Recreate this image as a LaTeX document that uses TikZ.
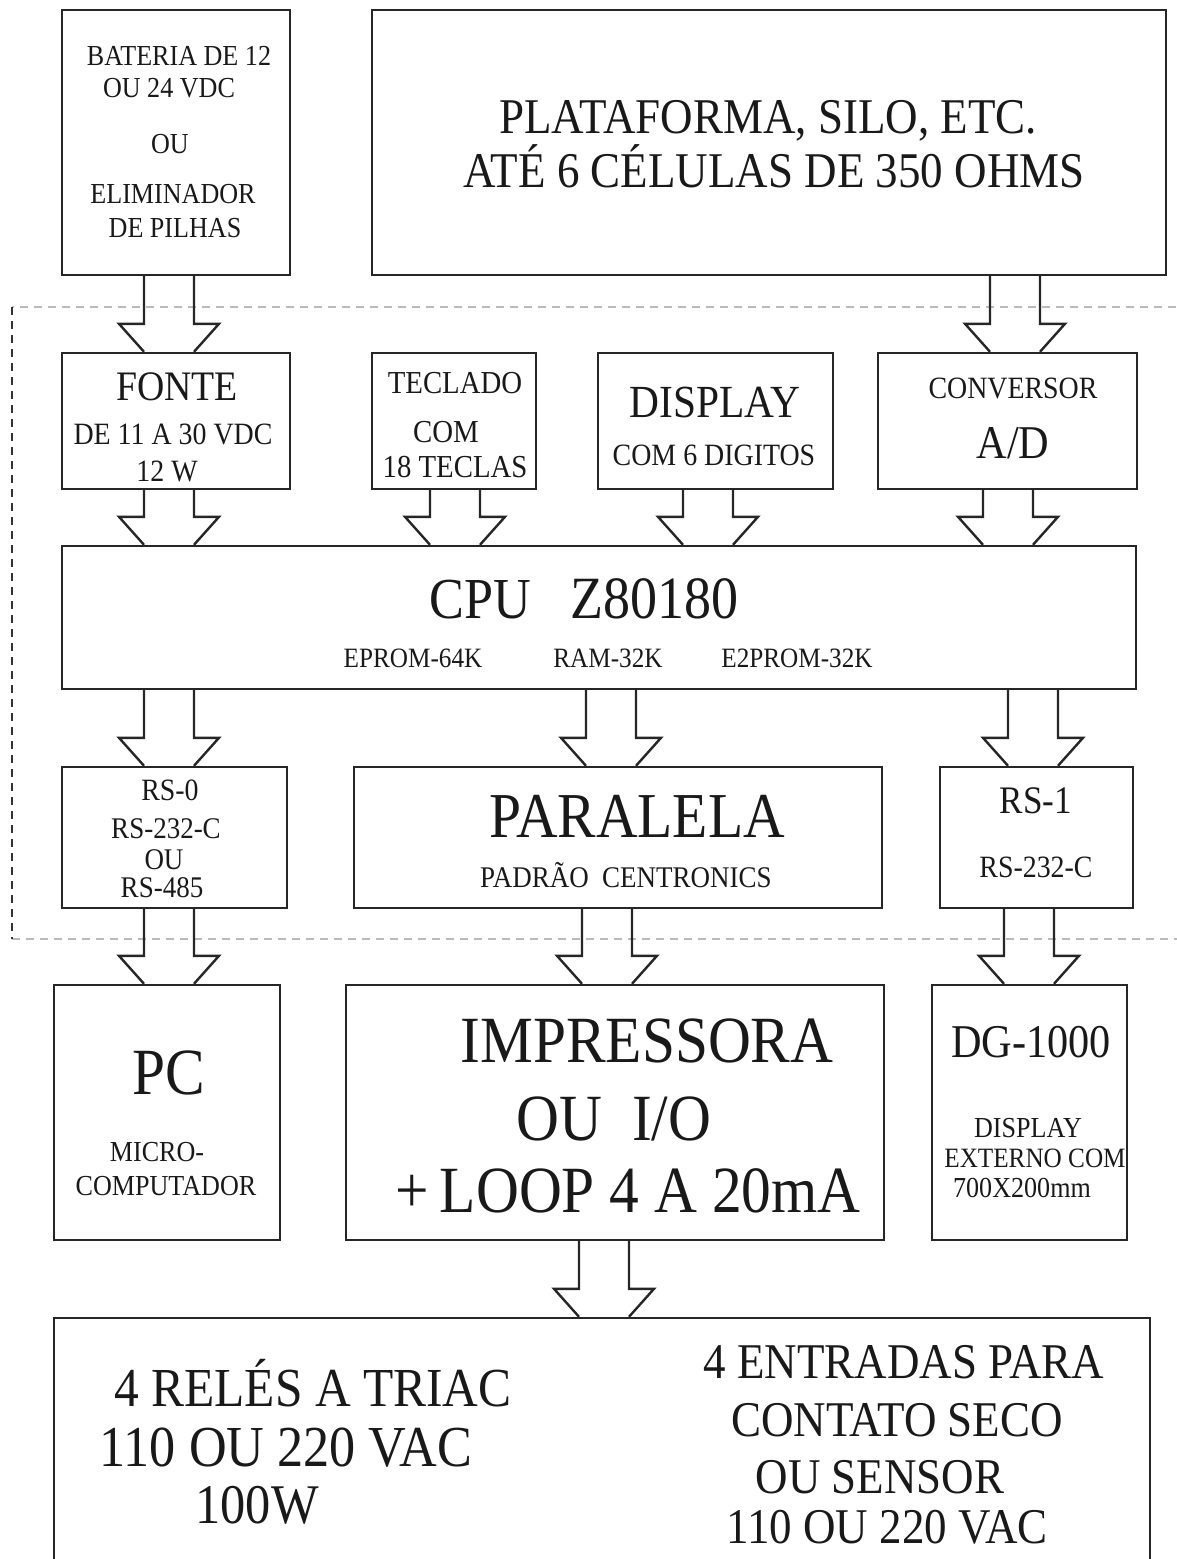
\documentclass[tikz,border=0pt]{standalone}
\usepackage{fontspec}
\setmainfont[FakeStretch=0.9]{Liberation Serif}
\usetikzlibrary{calc}

\newcommand{\fs}[1]{\fontsize{#1}{#1}\selectfont}
% hollow block arrow from the bottom of #1 to the top of #2, centred at x=#3
\newcommand{\fatarrow}[3]{%
  \draw[conn] (#3-25,0 |- #1.south) -- ($(#3-25,0 |- #2.north)+(0,-28)$) -- ++(-25,0) -- (#3-25,0 |- #2.north);
  \draw[conn] (#3+25,0 |- #1.south) -- ($(#3+25,0 |- #2.north)+(0,-28)$) -- ++(25,0) -- (#3+25,0 |- #2.north);}

\begin{document}
\begin{tikzpicture}[x=1pt,y=-1pt,
  box/.style={draw=black!85,line width=2.4pt,inner sep=0pt},
  conn/.style={draw=black!85,line width=2.4pt},
  lbl/.style={anchor=base,inner sep=0pt,text height=0.68em,text depth=0pt,text=black!90}]
\useasboundingbox (0,0) rectangle (1176,1559);

\draw[gray!55,line width=1.2pt,dash pattern=on 8pt off 6pt] (1190,307) -- (12,307);
\draw[gray!55,line width=1.2pt,dash pattern=on 8pt off 6pt] (12,939) -- (1190,939);
\draw[black!80,line width=1.2pt,dash pattern=on 8pt off 6pt] (12,307) -- (12,939);

\node[box,minimum width=228pt,minimum height=265pt] (bat) at (176,142.5) {};
\node[box,minimum width=794pt,minimum height=265pt] (plat) at (769,142.5) {};
\node[box,minimum width=228pt,minimum height=136pt] (fonte) at (176,421) {};
\node[box,minimum width=164pt,minimum height=136pt] (tecl) at (454,421) {};
\node[box,minimum width=235pt,minimum height=136pt] (disp) at (715.5,421) {};
\node[box,minimum width=259pt,minimum height=136pt] (conv) at (1007.5,421) {};
\node[box,minimum width=1074pt,minimum height=143pt] (cpu) at (599,617.5) {};
\node[box,minimum width=225pt,minimum height=141pt] (rs0) at (174.5,837.5) {};
\node[box,minimum width=528pt,minimum height=141pt] (par) at (618,837.5) {};
\node[box,minimum width=193pt,minimum height=141pt] (rs1) at (1036.5,837.5) {};
\node[box,minimum width=226pt,minimum height=255pt] (pc) at (167,1112.5) {};
\node[box,minimum width=538pt,minimum height=255pt] (imp) at (615,1112.5) {};
\node[box,minimum width=195pt,minimum height=255pt] (dg) at (1029.5,1112.5) {};
\node[box,minimum width=1096pt,minimum height=282pt] (rel) at (602,1459) {};

\node[lbl,font=\fs{29}] (bat1) at (179,65) {BATERIA DE 12};
\node[lbl,font=\fs{29}] (bat2) at (169,97) {OU 24 VDC};
\node[lbl,font=\fs{29}] (bat3) at (170,153) {OU};
\node[lbl,font=\fs{29}] (bat4) at (173,203) {ELIMINADOR};
\node[lbl,font=\fs{29}] (bat5) at (175,237) {DE PILHAS};

\node[lbl,font=\fs{50}] (plat1) at (768,133) {PLATAFORMA, SILO, ETC.};
\node[lbl,font=\fs{50}] (plat2) at (774,187) {ATÉ 6 CÉLULAS DE 350 OHMS};

\node[lbl,font=\fs{42}] (fonte1) at (177,400) {FONTE};
\node[lbl,font=\fs{31}] (fonte2) at (173,444) {DE 11 A 30 VDC};
\node[lbl,font=\fs{31}] (fonte3) at (167,481) {12 W};

\node[lbl,font=\fs{32}] (tecl1) at (455,393) {TECLADO};
\node[lbl,font=\fs{32}] (tecl2) at (446,442) {COM};
\node[lbl,font=\fs{32}] (tecl3) at (455,477) {18 TECLAS};

\node[lbl,font=\fs{46}] (disp1) at (715,417) {DISPLAY};
\node[lbl,font=\fs{31}] (disp2) at (714,465) {COM 6 DIGITOS};

\node[lbl,font=\fs{31}] (conv1) at (1013,398) {CONVERSOR};
\node[lbl,font=\fs{47}] (conv2) at (1013,458) {A/D};

\node[lbl,font=\fs{58}] (cpu1) at (480,618) {CPU};
\node[lbl,font=\fs{60}] (cpu2) at (654,618) {Z80180};
\node[lbl,font=\fs{28}] (cpu3) at (413,667) {EPROM-64K};
\node[lbl,font=\fs{28}] (cpu4) at (608,667) {RAM-32K};
\node[lbl,font=\fs{28}] (cpu5) at (797,667) {E2PROM-32K};

\node[lbl,font=\fs{31}] (rs01) at (170,800) {RS-0};
\node[lbl,font=\fs{30}] (rs02) at (166,838) {RS-232-C};
\node[lbl,font=\fs{30}] (rs03) at (164,869) {OU};
\node[lbl,font=\fs{30}] (rs04) at (162,897) {RS-485};

\node[lbl,font=\fs{64}] (par1) at (637,837) {PARALELA};
\node[lbl,font=\fs{30}] (par2) at (626,887) {PADRÃO\ \ CENTRONICS};

\node[lbl,font=\fs{39}] (rs11) at (1036,813) {RS-1};
\node[lbl,font=\fs{31}] (rs12) at (1036,877) {RS-232-C};

\node[lbl,font=\fs{66}] (pc1) at (169,1094) {PC};
\node[lbl,font=\fs{29}] (pc2) at (157,1161) {MICRO-};
\node[lbl,font=\fs{29}] (pc3) at (166,1195) {COMPUTADOR};

\node[lbl,font=\fs{66}] (imp1) at (647,1062) {IMPRESSORA};
\node[lbl,font=\fs{66}] (imp2) at (614,1140) {OU\ \ I/O};
\node[lbl,font=\fs{66}] (imp3) at (628,1212) {+\,LOOP 4 A 20mA};

\node[lbl,font=\fs{47}] (dg1) at (1031,1057) {DG-1000};
\node[lbl,font=\fs{29}] (dg2) at (1028,1137) {DISPLAY};
\node[lbl,font=\fs{28}] (dg3) at (1035,1167) {EXTERNO COM};
\node[lbl,font=\fs{29}] (dg4) at (1022,1197) {700X200mm};

\node[lbl,font=\fs{55}] (rel1) at (313,1406) {4 RELÉS A TRIAC};
\node[lbl,font=\fs{58}] (rel2) at (286,1466) {110 OU 220 VAC};
\node[lbl,font=\fs{56}] (rel3) at (257,1523) {100W};
\node[lbl,font=\fs{50}] (ent1) at (904,1378) {4 ENTRADAS PARA};
\node[lbl,font=\fs{50}] (ent2) at (897,1436) {CONTATO SECO};
\node[lbl,font=\fs{50}] (ent3) at (880,1493) {OU SENSOR};
\node[lbl,font=\fs{50}] (ent4) at (887,1543) {110 OU 220 VAC};

\fatarrow{bat}{fonte}{169}
\fatarrow{plat}{conv}{1015}
\fatarrow{fonte}{cpu}{169}
\fatarrow{tecl}{cpu}{455}
\fatarrow{disp}{cpu}{708}
\fatarrow{conv}{cpu}{1008}
\fatarrow{cpu}{rs0}{169}
\fatarrow{cpu}{par}{611}
\fatarrow{cpu}{rs1}{1033}
\fatarrow{rs0}{pc}{169}
\fatarrow{par}{imp}{607}
\fatarrow{rs1}{dg}{1029}
\fatarrow{imp}{rel}{604}
\end{tikzpicture}
\end{document}
